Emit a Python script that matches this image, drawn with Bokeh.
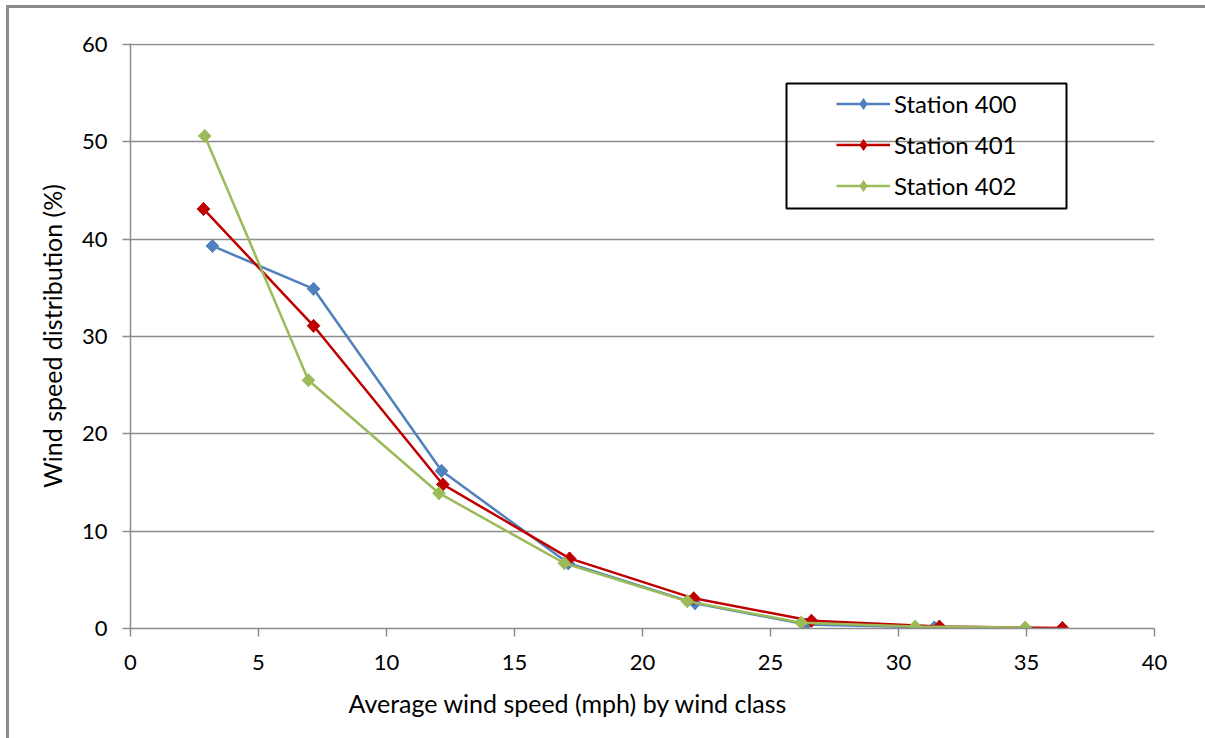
from bokeh.plotting import figure
from bokeh.models import (Range1d, FixedTicker, Legend, LegendItem, Title,
                          BoxAnnotation)
from bokeh.embed import file_html
from bokeh.resources import INLINE
import numpy as np

# Average wind speed per wind class (mph) and share of observations (%)
speed_400 = [3.2, 7.15, 12.15, 17.1, 22.05, 26.4, 31.4]
dist_400 = [39.3, 34.9, 16.2, 6.7, 2.6, 0.4, 0.1]

speed_401 = [2.85, 7.15, 12.2, 17.15, 22.0, 26.6, 31.6, 36.4]
dist_401 = [43.1, 31.1, 14.8, 7.2, 3.1, 0.8, 0.2, 0.05]

speed_402 = [2.9, 6.95, 12.05, 16.95, 21.75, 26.2, 30.65, 34.95]
dist_402 = [50.6, 25.5, 13.9, 6.7, 2.8, 0.6, 0.2, 0.1]

series_names = ["Station 400", "Station 401", "Station 402"]
series_colors = ["#4F81BD", "#C00000", "#9BBB59"]

x_ticks = [0, 5, 10, 15, 20, 25, 30, 35, 40]
y_ticks = [0, 10, 20, 30, 40, 50, 60]

FONT = "Lato"
GRAY = "#8C8C8C"

p = figure(width=1205, height=738, output_backend="svg", toolbar_location=None,
           x_range=Range1d(0, 40), y_range=Range1d(0, 60.1),
           min_border_left=130, min_border_right=51,
           min_border_top=43, min_border_bottom=110)
p.outline_line_color = None
p.background_fill_color = "white"
# let the host element's background (chart-area frame lines) show through
p.border_fill_alpha = 0
stripe = f"linear-gradient({GRAY}, {GRAY})"
p.styles = {
    "vertical-align": "top",
    "overflow": "hidden",
    "background-color": "white",
    "background-image": f"{stripe}, {stripe}",
    "background-size": "3px 100%, 100% 3px",
    "background-position": "6px 5px, 6px 5px",
    "background-repeat": "no-repeat",
}

# axes
for ax in (p.xaxis[0], p.yaxis[0]):
    ax.axis_line_color = GRAY
    ax.axis_line_width = 1.5
    ax.major_tick_line_color = GRAY
    ax.major_tick_line_width = 1.5
    ax.major_tick_out = 8
    ax.major_tick_in = 0
    ax.minor_tick_line_color = None
    ax.major_label_text_font = FONT
    ax.major_label_text_font_size = "22px"
    ax.major_label_text_color = "black"

p.xaxis.ticker = FixedTicker(ticks=x_ticks)
p.yaxis.ticker = FixedTicker(ticks=y_ticks)
p.xaxis.major_label_standoff = 18
p.yaxis.major_label_standoff = 15

p.yaxis.axis_label = "Wind speed distribution (%)"
p.yaxis.axis_label_text_font = FONT
p.yaxis.axis_label_text_font_size = "25px"
p.yaxis.axis_label_text_font_style = "normal"
p.yaxis.axis_label_text_color = "black"
p.yaxis.axis_label_standoff = 12

p.xgrid.grid_line_color = None
p.ygrid.grid_line_color = GRAY
p.ygrid.grid_line_width = 1.5
p.ygrid.ticker = FixedTicker(ticks=y_ticks)

# x-axis title, sitting left of centre below the tick labels
p.add_layout(Title(text="Average wind speed (mph) by wind class", align="left",
                   offset=218, text_font=FONT, text_font_size="25px",
                   text_font_style="normal", text_color="black", standoff=27),
             "below")

# series
items = []
for xs, ys, name, color in zip([speed_400, speed_401, speed_402],
                               [dist_400, dist_401, dist_402],
                               series_names, series_colors):
    ln = p.line(xs, ys, line_color=color, line_width=2.5)
    # diamond swatch for the legend, drawn underneath the point markers
    key = p.scatter(xs, ys, marker="diamond", size=13,
                    fill_color=color, line_color=color)
    p.scatter(xs, ys, marker="square", angle=np.pi / 4, size=9,
              fill_color=color, line_color=color)
    items.append(LegendItem(label=name, renderers=[ln, key]))

legend = Legend(items=items, location=(706, 428), orientation="vertical",
                border_line_color=None, background_fill_alpha=0,
                label_text_font=FONT, label_text_font_size="24px",
                label_text_color="black",
                glyph_width=54, glyph_height=27, label_height=20,
                label_standoff=4, spacing=12, padding=0)
p.add_layout(legend)

# legend frame (frame-relative screen units)
p.add_layout(BoxAnnotation(left=656, right=936, bottom=420, top=545,
                           left_units="screen", right_units="screen",
                           top_units="screen", bottom_units="screen",
                           fill_alpha=0, line_color="black", line_alpha=1,
                           line_width=2))

open("out.html", "w").write(file_html(p, INLINE))
